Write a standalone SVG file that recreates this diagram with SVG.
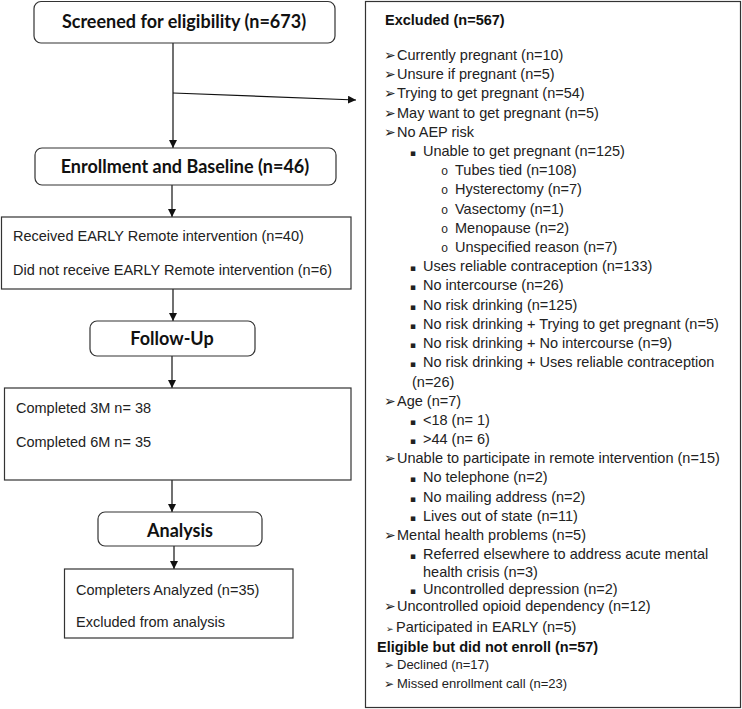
<svg xmlns="http://www.w3.org/2000/svg" width="742" height="709" viewBox="0 0 742 709">
<defs>
<marker id="ah" markerUnits="userSpaceOnUse" markerWidth="8" markerHeight="8" refX="8" refY="4" orient="auto">
<path d="M0,0 L8,4 L0,8 z" fill="#111"/>
</marker>
<style>
.box{fill:#fff;stroke:#333;stroke-width:1.2}
.hd{font-family:Lato,"Open Sans",sans-serif;font-weight:bold;font-size:18px;fill:#111;text-anchor:middle}
.t{font-family:"Liberation Sans",Arial,sans-serif;font-size:14.5px;fill:#222}
.b{font-family:"Liberation Sans",Arial,sans-serif;font-size:14.5px;font-weight:bold;fill:#111}
.s{font-family:"Liberation Sans",Arial,sans-serif;font-size:13px;fill:#222}
.ar{font-family:"DejaVu Sans",sans-serif;font-size:14px;fill:#222}
.ar2{font-family:"DejaVu Sans",sans-serif;font-size:12px;fill:#222}
.sq{font-family:"DejaVu Sans",sans-serif;font-size:9px;fill:#222}
.ci{font-family:"Liberation Mono",monospace;font-size:12px;fill:#222}
.ln{stroke:#111;stroke-width:1.2;fill:none}
</style>
</defs>
<rect width="742" height="709" fill="#fff"/>

<g id="connectors">
<line class="ln" x1="173" y1="43" x2="173" y2="148" marker-end="url(#ah)"/>
<line class="ln" x1="173" y1="93" x2="356" y2="100" marker-end="url(#ah)"/>
<line class="ln" x1="172" y1="185" x2="172" y2="217" marker-end="url(#ah)"/>
<line class="ln" x1="173" y1="289" x2="173" y2="321" marker-end="url(#ah)"/>
<line class="ln" x1="172" y1="356" x2="172" y2="388" marker-end="url(#ah)"/>
<line class="ln" x1="172" y1="480" x2="172" y2="512" marker-end="url(#ah)"/>
<line class="ln" x1="174" y1="546" x2="174" y2="569" marker-end="url(#ah)"/>
</g>

<g id="screened">
<rect class="box" x="34" y="1.5" width="301" height="41.5" rx="7"/>
<text class="hd" x="184" y="28">Screened for eligibility (n=673)</text>
</g>

<g id="enrollment">
<rect class="box" x="35" y="148" width="301" height="37" rx="7"/>
<text class="hd" x="185" y="173">Enrollment and Baseline (n=46)</text>
</g>

<g id="received">
<rect class="box" x="1.5" y="217" width="349.5" height="72"/>
<text class="t" x="13" y="241">Received EARLY Remote intervention (n=40)</text>
<text class="t" x="13" y="275">Did not receive EARLY Remote intervention (n=6)</text>
</g>

<g id="followup">
<rect class="box" x="90" y="321" width="165" height="35" rx="7"/>
<text class="hd" x="172" y="345">Follow-Up</text>
</g>

<g id="completed">
<rect class="box" x="4.5" y="388" width="346.5" height="92"/>
<text class="t" x="16" y="413">Completed 3M n= 38</text>
<text class="t" x="16" y="447">Completed 6M n= 35</text>
</g>

<g id="analysis">
<rect class="box" x="98" y="512" width="164" height="34" rx="7"/>
<text class="hd" x="180" y="537">Analysis</text>
</g>

<g id="completers">
<rect class="box" x="64.5" y="569" width="228.5" height="69"/>
<text class="t" x="76" y="595">Completers Analyzed (n=35)</text>
<text class="t" x="76" y="627">Excluded from analysis</text>
</g>

<g id="excluded">
<rect class="box" x="365.5" y="1.5" width="375" height="706"/>
<text class="b" x="385" y="25">Excluded (n=567)</text>

<text class="ar" x="384" y="60">➢</text><text class="t" x="397" y="60">Currently pregnant (n=10)</text>
<text class="ar" x="384" y="79">➢</text><text class="t" x="397" y="79">Unsure if pregnant (n=5)</text>
<text class="ar" x="384" y="98">➢</text><text class="t" x="397" y="98">Trying to get pregnant (n=54)</text>
<text class="ar" x="384" y="118">➢</text><text class="t" x="397" y="118">May want to get pregnant (n=5)</text>
<text class="ar" x="384" y="137">➢</text><text class="t" x="397" y="137">No AEP risk</text>
<text class="sq" x="410" y="156">▪</text><text class="t" x="423" y="156">Unable to get pregnant (n=125)</text>
<text class="ci" x="441" y="175">o</text><text class="t" x="455" y="175">Tubes tied (n=108)</text>
<text class="ci" x="441" y="194">o</text><text class="t" x="455" y="194">Hysterectomy (n=7)</text>
<text class="ci" x="441" y="214">o</text><text class="t" x="455" y="214">Vasectomy (n=1)</text>
<text class="ci" x="441" y="233">o</text><text class="t" x="455" y="233">Menopause (n=2)</text>
<text class="ci" x="441" y="252">o</text><text class="t" x="455" y="252">Unspecified reason (n=7)</text>
<text class="sq" x="410" y="271">▪</text><text class="t" x="423" y="271">Uses reliable contraception (n=133)</text>
<text class="sq" x="410" y="290">▪</text><text class="t" x="423" y="290">No intercourse (n=26)</text>
<text class="sq" x="410" y="310">▪</text><text class="t" x="423" y="310">No risk drinking (n=125)</text>
<text class="sq" x="410" y="329">▪</text><text class="t" x="423" y="329">No risk drinking + Trying to get pregnant (n=5)</text>
<text class="sq" x="410" y="348">▪</text><text class="t" x="423" y="348">No risk drinking + No intercourse (n=9)</text>
<text class="sq" x="410" y="367">▪</text><text class="t" x="423" y="367">No risk drinking + Uses reliable contraception</text>
<text class="t" x="412" y="387">(n=26)</text>
<text class="ar" x="384" y="406">➢</text><text class="t" x="397" y="406">Age (n=7)</text>
<text class="sq" x="410" y="425">▪</text><text class="t" x="423" y="425">&lt;18 (n= 1)</text>
<text class="sq" x="410" y="444">▪</text><text class="t" x="423" y="444">&gt;44 (n= 6)</text>
<text class="ar" x="384" y="463">➢</text><text class="t" x="397" y="463">Unable to participate in remote intervention (n=15)</text>
<text class="sq" x="410" y="482">▪</text><text class="t" x="423" y="482">No telephone (n=2)</text>
<text class="sq" x="410" y="502">▪</text><text class="t" x="423" y="502">No mailing address (n=2)</text>
<text class="sq" x="410" y="521">▪</text><text class="t" x="423" y="521">Lives out of state (n=11)</text>
<text class="ar" x="384" y="540">➢</text><text class="t" x="397" y="540">Mental health problems (n=5)</text>
<text class="sq" x="410" y="559">▪</text><text class="t" x="423" y="559">Referred elsewhere to address acute mental</text>
<text class="t" x="423" y="577">health crisis (n=3)</text>
<text class="sq" x="410" y="594">▪</text><text class="t" x="423" y="594">Uncontrolled depression (n=2)</text>
<text class="ar" x="384" y="611">➢</text><text class="t" x="397" y="611">Uncontrolled opioid dependency (n=12)</text>
<text class="ar2" x="386" y="632" style="font-size:9px">➢</text><text class="t" x="396" y="632">Participated in EARLY (n=5)</text>
<text class="b" x="377" y="652">Eligible but did not enroll (n=57)</text>
<text class="ar2" x="384" y="669">➢</text><text class="s" x="397" y="669">Declined (n=17)</text>
<text class="ar2" x="384" y="688">➢</text><text class="s" x="397" y="688">Missed enrollment call (n=23)</text>
</g>
</svg>
